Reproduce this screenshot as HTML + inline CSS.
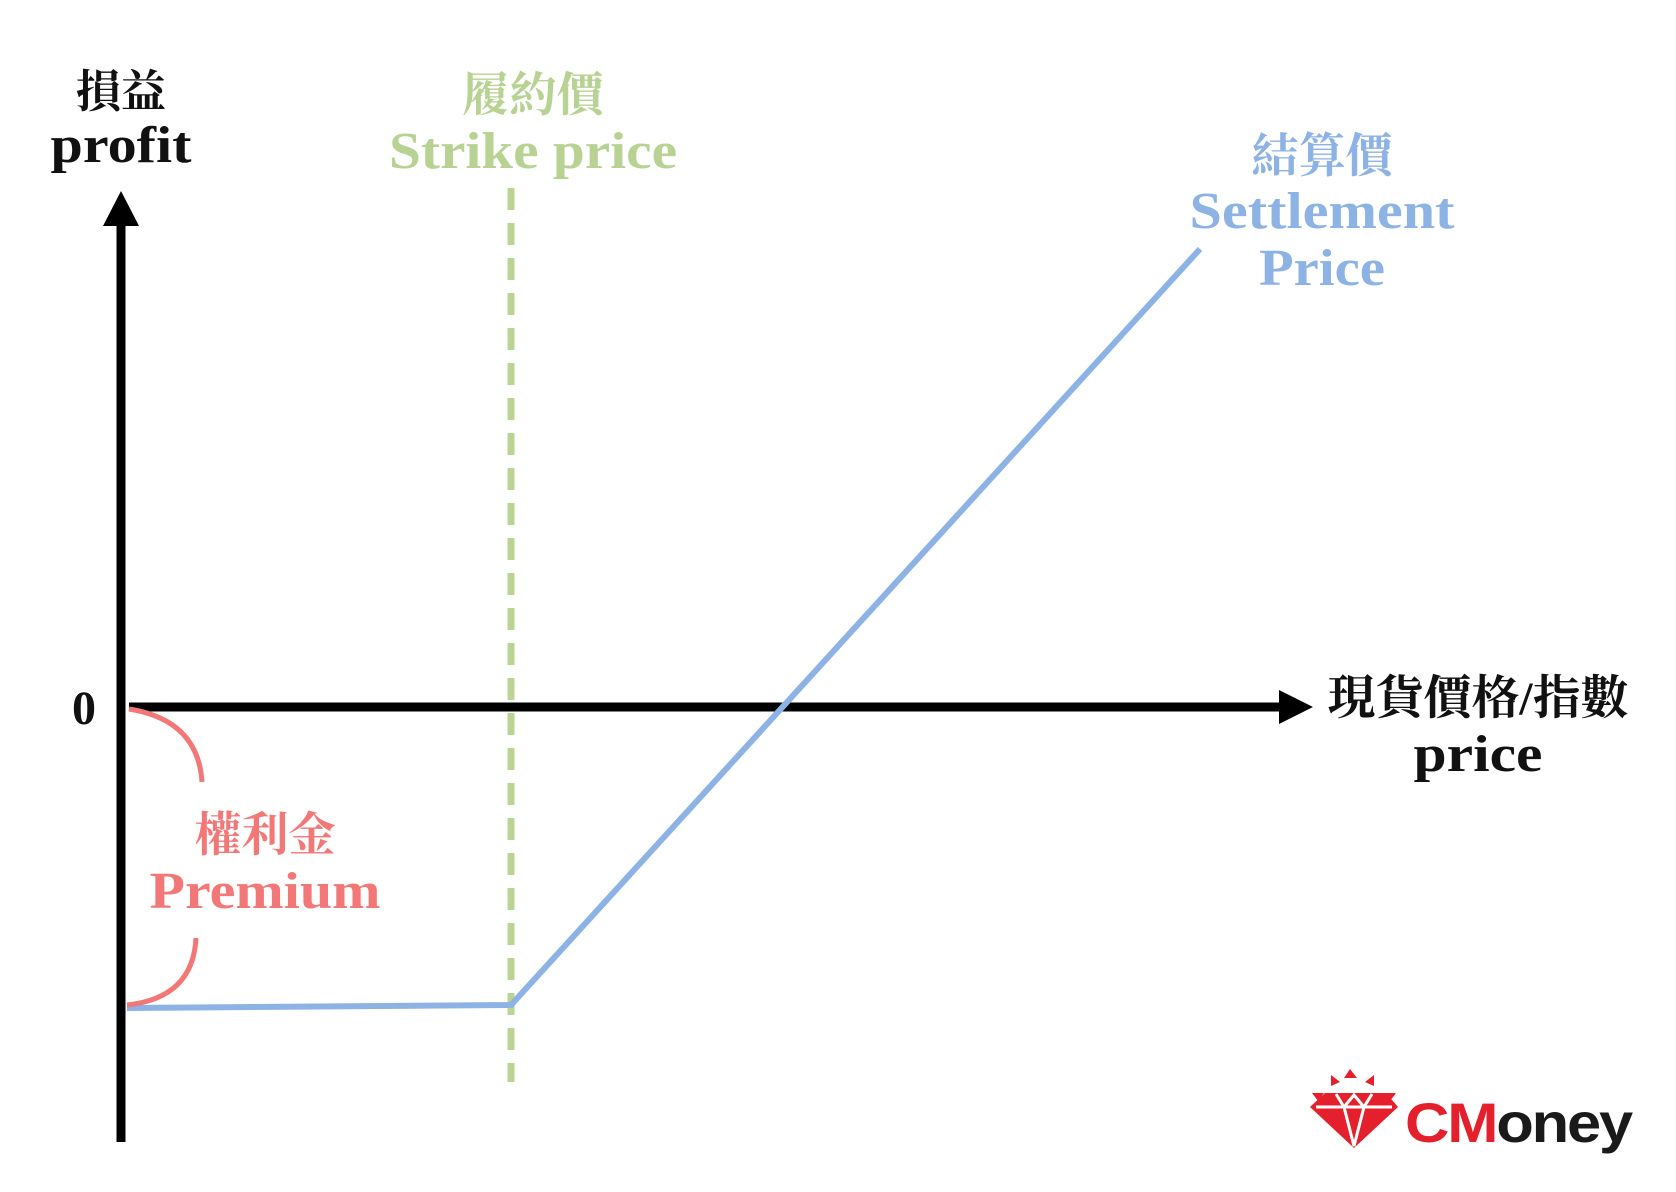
<!DOCTYPE html>
<html><head><meta charset="utf-8"><style>
html,body{margin:0;padding:0;background:#fff;}
svg{display:block}
.s{font-family:"Liberation Serif","Noto Serif CJK TC","Noto Serif CJK SC",serif;font-weight:bold;text-anchor:middle}
</style></head><body>
<svg width="1676" height="1192" viewBox="0 0 1676 1192" xmlns="http://www.w3.org/2000/svg">
<rect width="1676" height="1192" fill="#fff"/>
<line x1="511" y1="188" x2="511" y2="1082" stroke="#bad494" stroke-width="7" stroke-dasharray="22,13"/>
<line x1="121" y1="225" x2="121" y2="1142" stroke="#000" stroke-width="9"/>
<polygon points="121,191 103,226 139,226" fill="#000"/>
<line x1="129" y1="707" x2="1285" y2="707" stroke="#000" stroke-width="9"/>
<polygon points="1313,707 1279,690 1279,724" fill="#000"/>
<polyline points="127,1008 511,1005 1200,249" fill="none" stroke="#8db2e4" stroke-width="6"/>
<path d="M129,709 Q198,720 202,782" fill="none" stroke="#f27878" stroke-width="5"/>
<path d="M196,938 Q193,998 127,1005" fill="none" stroke="#f27878" stroke-width="5"/>
<text class="s" x="121" y="107" font-size="45" fill="#111">損益</text>
<text class="s" x="121" y="162" font-size="52" fill="#111" textLength="141" lengthAdjust="spacingAndGlyphs">profit</text>
<text class="s" x="533" y="111" font-size="47" fill="#b8d293">履約價</text>
<text class="s" x="533" y="168" font-size="52" fill="#b8d293" textLength="288" lengthAdjust="spacingAndGlyphs">Strike price</text>
<text class="s" x="1322" y="172" font-size="47" fill="#8db2e4">結算價</text>
<text class="s" x="1322" y="228" font-size="52" fill="#8db2e4" textLength="265" lengthAdjust="spacingAndGlyphs">Settlement</text>
<text class="s" x="1322" y="285" font-size="52" fill="#8db2e4" textLength="126" lengthAdjust="spacingAndGlyphs">Price</text>
<text class="s" x="84" y="724" font-size="48" fill="#111">0</text>
<text class="s" x="1478" y="714" font-size="47" fill="#111" textLength="301" lengthAdjust="spacingAndGlyphs">現貨價格/指數</text>
<text class="s" x="1478" y="771" font-size="52" fill="#111" textLength="129" lengthAdjust="spacingAndGlyphs">price</text>
<text class="s" x="265" y="851" font-size="47" fill="#f27878">權利金</text>
<text class="s" x="265" y="908" font-size="52" fill="#f27878" textLength="231" lengthAdjust="spacingAndGlyphs">Premium</text>
<g fill="#e3202b">
<polygon points="1312,1093 1324,1093 1318,1101"/>
<polygon points="1396,1093 1384,1093 1390,1101"/>
<polygon points="1331,1075 1340,1082 1331,1086"/>
<polygon points="1374,1075 1365,1082 1374,1086"/>
<polygon points="1350,1069 1357,1078 1344,1078"/>
<polygon points="1325,1093 1386,1093 1398,1107 1354,1148 1310,1107"/>
</g>
<g stroke="#fff" stroke-width="3" fill="none">
<line x1="1316" y1="1107" x2="1392" y2="1107"/>
<polyline points="1336,1094 1344,1107 1354,1146 1364,1107 1372,1094"/>
<polyline points="1344,1107 1354,1095 1364,1107"/>
</g>
<text x="1405" y="1142" font-family="Liberation Sans,sans-serif" font-weight="bold" font-size="56" letter-spacing="-2" textLength="226" lengthAdjust="spacingAndGlyphs"><tspan fill="#e3202b">CM</tspan><tspan fill="#1a1a1a">oney</tspan></text>
</svg>
</body></html>
